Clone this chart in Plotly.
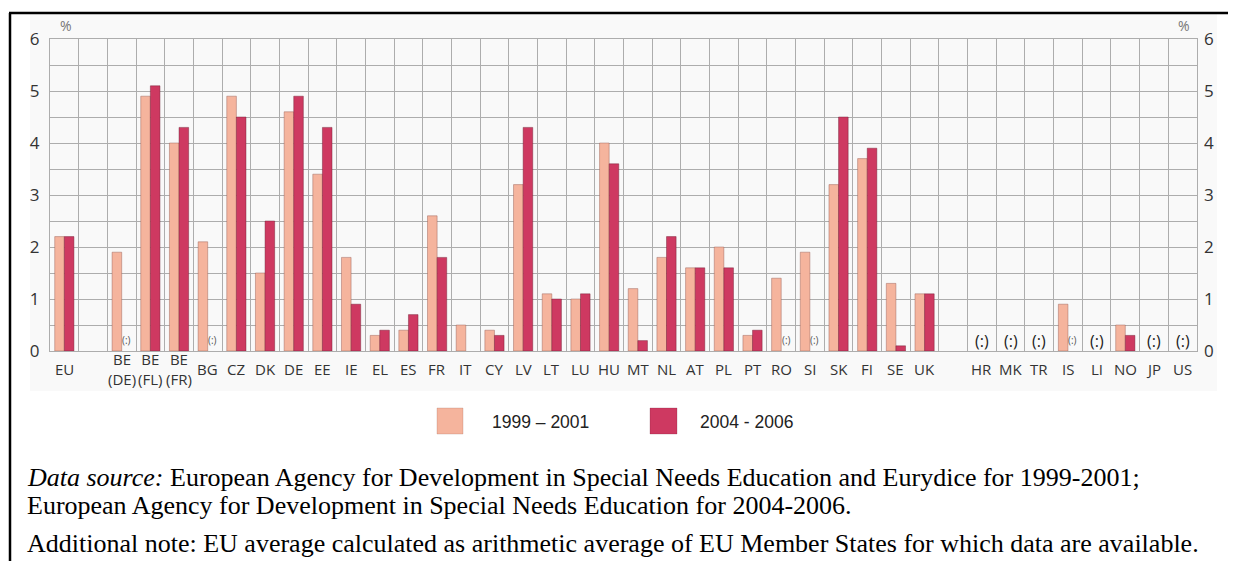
import plotly.graph_objects as go

labels = ["EU", "", "BE<br>(DE)", "BE<br>(FL)", "BE<br>(FR)", "BG", "CZ", "DK", "DE", "EE",
          "IE", "EL", "ES", "FR", "IT", "CY", "LV", "LT", "LU", "HU",
          "MT", "NL", "AT", "PL", "PT", "RO", "SI", "SK", "FI", "SE",
          "UK", "", "HR", "MK", "TR", "IS", "LI", "NO", "JP", "US"]
v1999 = [2.2, None, 1.9, 4.9, 4.0, 2.1, 4.9, 1.5, 4.6, 3.4,
         1.8, 0.3, 0.4, 2.6, 0.5, 0.4, 3.2, 1.1, 1.0, 4.0,
         1.2, 1.8, 1.6, 2.0, 0.3, 1.4, 1.9, 3.2, 3.7, 1.3,
         1.1, None, None, None, None, 0.9, None, 0.5, None, None]
v2004 = [2.2, None, None, 5.1, 4.3, None, 4.5, 2.5, 4.9, 4.3,
         0.9, 0.4, 0.7, 1.8, None, 0.3, 4.3, 1.0, 1.1, 3.6,
         0.2, 2.2, 1.6, 1.6, 0.4, None, None, 4.5, 3.9, 0.1,
         1.1, None, None, None, None, None, None, 0.3, None, None]
na_second = ["BE<br>(DE)", "BG", "RO", "SI", "IS"]
na_both = ["HR", "MK", "TR", "LI", "JP", "US"]
series_names = ["1999 – 2001", "2004 - 2006"]
yticks = [0, 1, 2, 3, 4, 5, 6]

C1 = "#F5B49D"
C2 = "#CE3961"
GRID = "#adadad"

# page has an 8px body margin; figure sized to fit the window
OFF = 8
W, H = 1236 - OFF, 561 - OFF
L, R, T, B = 42, 39, 31, 210
PW, PH = W - L - R, H - T - B

def px(x):
    return (x - OFF - L) / PW

def py(y):
    return (H - B - (y - OFF)) / PH

xs = list(range(len(labels)))
bargap = 0.33
off = (1 - bargap) / 4

fig = go.Figure()
fig.add_trace(go.Bar(x=xs, y=v1999, name=series_names[0], marker_color=C1,
                     marker_line=dict(color="rgba(150,90,80,0.55)", width=0.8)))
fig.add_trace(go.Bar(x=xs, y=v2004, name=series_names[1], marker_color=C2,
                     marker_line=dict(color="rgba(110,30,50,0.55)", width=0.8)))
fig.add_trace(go.Scatter(x=[0], y=[None], yaxis="y2", showlegend=False, hoverinfo="skip"))

annotations = []
for i, lab in enumerate(labels):
    if lab:
        annotations.append(dict(x=i, y=py(369), xref="x", yref="paper", text=lab,
                                showarrow=False, xanchor="center", yanchor="middle",
                                font=dict(family="Open Sans", size=15, color="#333")))
    if lab in na_second:
        annotations.append(dict(x=i + off, y=0.22, xref="x", yref="y", text="(:)",
                                showarrow=False, font=dict(family="Open Sans", size=10, color="#555")))
    if lab in na_both:
        annotations.append(dict(x=i, y=0.2, xref="x", yref="y", text="(:)",
                                showarrow=False, font=dict(family="Open Sans", size=16, color="#222")))

note_font = dict(family="Liberation Serif", size=26, color="#000")
annotations += [
    dict(x=px(66), y=py(26), xref="paper", yref="paper", text="%", showarrow=False,
         xanchor="center", yanchor="middle",
         font=dict(family="Open Sans", size=14, color="#777")),
    dict(x=px(1184), y=py(26), xref="paper", yref="paper", text="%", showarrow=False,
         xanchor="center", yanchor="middle",
         font=dict(family="Open Sans", size=14, color="#777")),
    dict(x=px(490), y=py(422), xref="paper", yref="paper", text=series_names[0], showarrow=False,
         xanchor="left", yanchor="middle", font=dict(family="Liberation Sans", size=17.5, color="#222")),
    dict(x=px(698), y=py(422), xref="paper", yref="paper", text=series_names[1], showarrow=False,
         xanchor="left", yanchor="middle", font=dict(family="Liberation Sans", size=17.5, color="#222")),
    dict(x=px(25), y=py(478), xref="paper", yref="paper",
         text="<i>Data source:</i> European Agency for Development in Special Needs Education and Eurydice for 1999-2001;",
         showarrow=False, xanchor="left", yanchor="middle", font=note_font),
    dict(x=px(25), y=py(505), xref="paper", yref="paper",
         text="European Agency for Development in Special Needs Education for 2004-2006.",
         showarrow=False, xanchor="left", yanchor="middle", font=note_font),
    dict(x=px(25), y=py(543), xref="paper", yref="paper",
         text="Additional note: EU average calculated as arithmetic average of EU Member States for which data are available.",
         showarrow=False, xanchor="left", yanchor="middle", font=note_font),
]

shapes = [
    dict(type="rect", xref="paper", yref="paper", x0=px(30), x1=px(1217), y0=py(14), y1=py(391),
         fillcolor="#f9f9f9", line=dict(width=0), layer="below"),
    dict(type="line", xref="paper", yref="paper", x0=px(9), x1=px(1236), y0=py(13), y1=py(13),
         line=dict(color="#000", width=2.5)),
    dict(type="line", xref="paper", yref="paper", x0=px(10), x1=px(10), y0=py(13), y1=py(561),
         line=dict(color="#000", width=2.5)),
    dict(type="rect", xref="paper", yref="paper", x0=px(437), x1=px(463), y0=py(408), y1=py(434),
         fillcolor=C1, line=dict(color="rgba(150,90,80,0.3)", width=0.8)),
    dict(type="rect", xref="paper", yref="paper", x0=px(650), x1=px(677), y0=py(408), y1=py(434),
         fillcolor=C2, line=dict(color="rgba(110,30,50,0.3)", width=0.8)),
]

tickfont = dict(family="Open Sans", size=17, color="#333")
fig.update_layout(
    width=W, height=H,
    margin=dict(l=L, r=R, t=T, b=B),
    paper_bgcolor="white", plot_bgcolor="white",
    barmode="group", bargap=bargap, bargroupgap=0,
    showlegend=False,
    xaxis=dict(range=[-0.5, len(labels) - 0.5], tick0=0.5, dtick=1, showgrid=True,
               gridcolor=GRID, gridwidth=1, showticklabels=False, zeroline=False,
               showline=True, linecolor=GRID, mirror=True, fixedrange=True),
    yaxis=dict(range=[0, 6], tickvals=yticks, showgrid=True, gridcolor=GRID, gridwidth=1,
               minor=dict(dtick=0.5, showgrid=True, gridcolor=GRID, gridwidth=1),
               zeroline=False, showline=True, linecolor=GRID, mirror=True,
               tickfont=tickfont, ticks="", ticklabelstandoff=6),
    yaxis2=dict(range=[0, 6], tickvals=yticks, overlaying="y", side="right", showgrid=False,
                zeroline=False, tickfont=tickfont, ticks="", ticklabelstandoff=6),
    annotations=annotations,
    shapes=shapes,
)

fig.write_html("out.html")
